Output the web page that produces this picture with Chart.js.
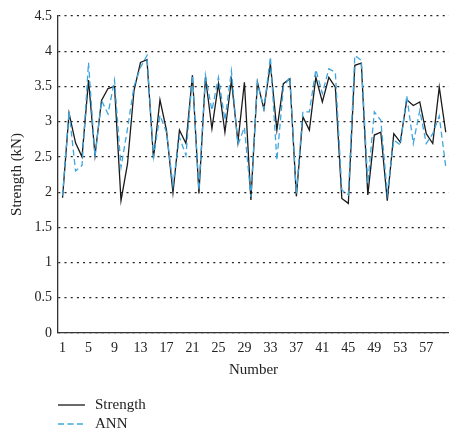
<!DOCTYPE html>
<html>
<head>
<meta charset="utf-8">
<script src="https://cdn.jsdelivr.net/npm/chart.js@4.4.0/dist/chart.umd.min.js"></script>
<style>
  html, body { margin: 0; padding: 0; background: #fff; }
  #wrap { position: relative; width: 449px; height: 432px; }
  #legend { position: absolute; left: 58px; top: 395px; font-family: "Liberation Serif", serif; font-size: 15px; color: #222; }
  .item { position: relative; height: 19px; line-height: 19px; }
  .item svg { position: absolute; left: 0; top: 0; }
  .item span { position: absolute; left: 37px; top: 0; white-space: nowrap; }
</style>
</head>
<body>
<div id="wrap">
  <canvas id="c" width="449" height="432"></canvas>
  <div id="legend"></div>
</div>
<script>
const numbers = Array.from({length: 60}, (_, i) => i + 1);
const strength = [1.92,3.12,2.70,2.50,3.59,2.52,3.30,3.47,3.50,1.88,
                  2.40,3.44,3.84,3.88,2.48,3.31,2.88,1.99,2.88,2.69,
                  3.66,1.98,3.63,2.90,3.54,2.85,3.59,2.71,3.56,1.89,
                  3.56,3.18,3.82,2.88,3.54,3.61,1.94,3.07,2.88,3.63,
                  3.28,3.63,3.49,1.91,1.84,3.80,3.83,1.96,2.81,2.85,
                  1.88,2.83,2.71,3.31,3.23,3.28,2.83,2.69,3.49,2.85];
const ann = [1.95,3.15,2.30,2.38,3.84,2.50,3.30,3.11,3.59,2.35,
             2.90,3.50,3.77,3.94,2.50,3.09,2.85,2.10,2.78,2.52,
             3.66,2.03,3.66,3.16,3.63,3.02,3.72,2.67,2.92,1.93,
             3.56,3.18,3.92,2.45,3.49,3.63,1.98,3.14,3.14,3.74,
             3.40,3.75,3.70,2.03,1.96,3.94,3.87,2.12,3.14,3.02,
             1.98,2.74,2.67,3.37,2.69,3.16,2.69,2.83,3.08,2.36];
const xTicks = [1,5,9,13,17,21,25,29,33,37,41,45,49,53,57];
const yTicks = [0,0.5,1,1.5,2,2.5,3,3.5,4,4.5];
const seriesNames = ["Strength", "ANN"];
const xTitle = "Number";
const yTitle = "Strength (kN)";

const colors = { strength: "#1a1a1a", ann: "#3ea6de" };
const serif = "'Liberation Serif', 'DejaVu Serif', serif";

new Chart(document.getElementById("c"), {
  type: "line",
  data: {
    datasets: [
      {
        label: seriesNames[0],
        data: numbers.map((n, i) => ({x: n, y: strength[i]})),
        borderColor: colors.strength, borderWidth: 1.3,
        pointRadius: 0, tension: 0, fill: false, order: 2
      },
      {
        label: seriesNames[1],
        data: numbers.map((n, i) => ({x: n, y: ann[i]})),
        borderColor: colors.ann, borderWidth: 1.3, borderDash: [6, 3.5],
        pointRadius: 0, tension: 0, fill: false, order: 1
      }
    ]
  },
  options: {
    responsive: false,
    animation: false,
    events: [],
    layout: { padding: { top: 16, right: 0, bottom: 53, left: 0 } },
    plugins: { legend: { display: false }, tooltip: { enabled: false } },
    scales: {
      x: {
        type: "linear", min: 0.3, max: 60.5,
        afterBuildTicks: s => { s.ticks = xTicks.map(v => ({value: v})); },
        afterFit: s => { s.height = 46; },
        ticks: { color: "#222", padding: 7, maxRotation: 0, autoSkip: false,
                 callback: v => String(Number(v)),
                 font: { family: serif, size: 14 } },
        grid: { drawOnChartArea: false, drawTicks: false },
        border: { display: true, color: "#333", width: 1.3 },
        title: { display: true, text: xTitle, color: "#222", padding: 0,
                 font: { family: serif, size: 15 } }
      },
      y: {
        min: 0, max: 4.5,
        afterBuildTicks: s => { s.ticks = yTicks.map(v => ({value: v})); },
        afterFit: s => { s.width = 58; },
        ticks: { color: "#222", padding: 6, callback: v => String(Number(v)),
                 font: { family: serif, size: 14 } },
        grid: { color: "#222", lineWidth: 1.2, drawTicks: false },
        border: { display: true, color: "#333", width: 1.3, dash: [2, 4.2] },
        title: { display: true, text: yTitle, color: "#222", padding: { top: 8, bottom: 8 },
                 font: { family: serif, size: 15 } }
      }
    }
  }
});

const legend = document.getElementById("legend");
const legendItems = [
  { name: seriesNames[0], color: colors.strength, dash: "" },
  { name: seriesNames[1], color: colors.ann, dash: "6 3.5" }
];
legendItems.forEach(it => {
  const d = document.createElement("div");
  d.className = "item";
  d.innerHTML = '<svg width="28" height="19"><line x1="0" y1="10" x2="27" y2="10" stroke="' + it.color +
    '" stroke-width="1.3"' + (it.dash ? ' stroke-dasharray="' + it.dash + '"' : '') + '/></svg><span></span>';
  d.querySelector("span").textContent = it.name;
  legend.appendChild(d);
});
</script>
</body>
</html>
